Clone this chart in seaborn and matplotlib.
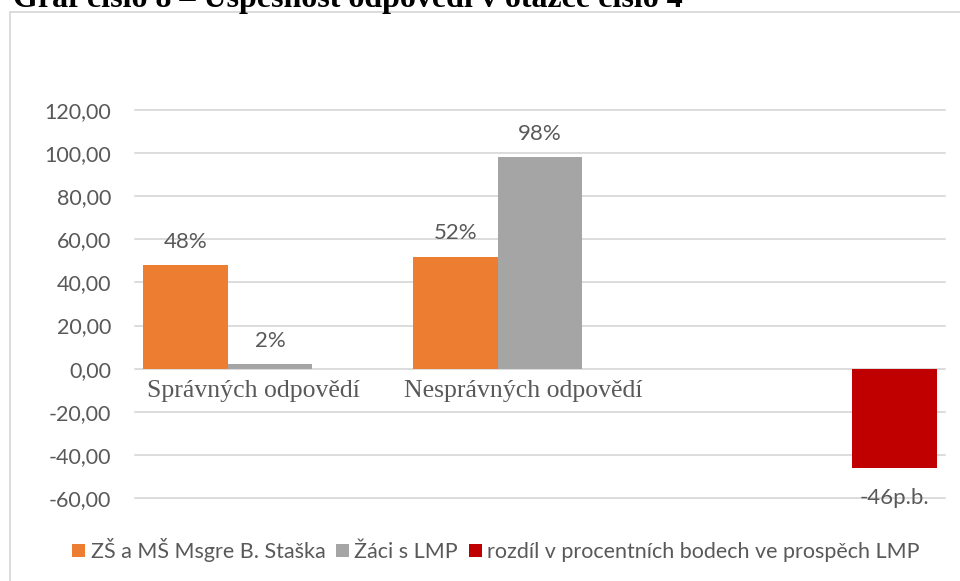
import pandas as pd
import numpy as np
import matplotlib
matplotlib.use('Agg')
import matplotlib.pyplot as plt
from matplotlib.patches import Patch, Rectangle
import seaborn as sns

categories = ['Správných odpovědí', 'Nesprávných odpovědí', '']
series = ['ZŠ a MŠ Msgre B. Staška', 'Žáci s LMP', 'rozdíl v procentních bodech ve prospěch LMP']
zs_values = [48, 52]
lmp_values = [2, 98]
diff_values = [-46]
zs_labels = ['48%', '52%']
lmp_labels = ['2%', '98%']
diff_labels = ['-46p.b.']
yticks = [-60, -40, -20, 0, 20, 40, 60, 80, 100, 120]
title = 'Graf číslo 8 – Úspěšnost odpovědí v otázce číslo 4'

colors = ['#ED7D31', '#A5A5A5', '#C00000']
grey_text = '#595959'
grid_col = '#D9D9D9'

rows = []
for cat, v in zip(categories[:2], zs_values):
    rows.append({'cat': cat, 'series': series[0], 'val': v})
for cat, v in zip(categories[:2], lmp_values):
    rows.append({'cat': cat, 'series': series[1], 'val': v})
for cat, v in zip(categories[2:], diff_values):
    rows.append({'cat': cat, 'series': series[2], 'val': v})
df = pd.DataFrame(rows)

sns.set_theme(style='white')
plt.rcParams['font.family'] = ['Lato', 'DejaVu Sans']

fig = plt.figure(figsize=(9.6, 5.81), dpi=100)
ax = fig.add_axes([135 / 960, 1 - 498 / 581, 810 / 960, 388 / 581])

sns.barplot(data=df, x='cat', y='val', hue='series', order=categories,
            hue_order=series, palette=colors, width=0.94, ax=ax,
            legend=False, saturation=1, errorbar=None, linewidth=0)

ax.set_ylim(-60, 120)
ax.set_xlim(-0.5, 2.5)
ax.set_yticks(yticks)
ax.set_yticklabels([f'{t:.2f}'.replace('.', ',') for t in yticks],
                   color=grey_text, fontsize=15.5)
ax.tick_params(axis='y', length=0, pad=17)
ax.set_xticks([])
ax.set_xlabel('')
ax.set_ylabel('')
for s in ax.spines.values():
    s.set_visible(False)
for t in yticks:
    ax.axhline(t, color=grid_col, lw=1.3, zorder=0, clip_on=False)

# data labels
label_sets = [zs_labels, lmp_labels, diff_labels]
for container, labels in zip(ax.containers, label_sets):
    for bar, lab in zip([b for b in container if not np.isnan(b.get_height())], labels):
        h = bar.get_height()
        x = bar.get_x() + bar.get_width() / 2
        off = 17 if h >= 0 else -22
        ax.annotate(lab, (x, h), xytext=(0, off), textcoords='offset points',
                    ha='center', va='center', fontsize=16, color=grey_text)

# category labels
for i, cat in enumerate(categories):
    ax.annotate(cat, (i, 0), xytext=(-12, -8), textcoords='offset points',
                ha='center', va='top', fontsize=18.5, color=grey_text,
                family='Liberation Serif')

handles = [Patch(facecolor=c, edgecolor='none') for c in colors]
fig.legend(handles, series, loc='center', bbox_to_anchor=(496 / 960, 1 - 550 / 581),
           ncol=3, frameon=False, fontsize=15.5, handlelength=0.6, handleheight=0.6,
           handletextpad=0.25, columnspacing=0.5, labelcolor=grey_text)

fig.add_artist(Rectangle((10 / 960, -0.1), 1.2, 1.1 - 12 / 581, transform=fig.transFigure,
                         fill=False, edgecolor=grid_col, lw=1.3))
fig.text(13 / 960, 1 - 7 / 581, title, ha='left', va='baseline', fontsize=23,
         fontweight='bold', family='Liberation Serif', color='black')

fig.savefig('out.png', dpi=100)
